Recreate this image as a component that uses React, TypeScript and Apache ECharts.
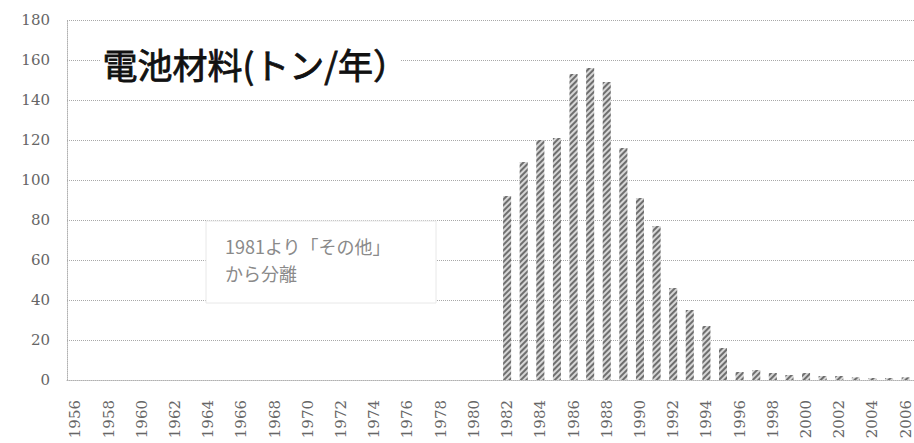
import React, { useEffect, useRef } from "react";
import * as echarts from "echarts";

const years: string[] = [];
for (let y = 1956; y <= 2006; y++) years.push(String(y));

// 1956–1981: no separate data
const earlyValues: (number | null)[] = [
  null, null, null, null, null, null, null, null, null, null, null, null, null,
  null, null, null, null, null, null, null, null, null, null, null, null, null,
];
// 1982–2006
const batteryValues: number[] = [
  92, 109, 120, 121, 153, 156, 149, 116, 91, 77, 46, 35, 27, 16,
  4, 5, 3.5, 2.5, 3.5, 2, 2, 1.3, 1, 1, 1.3,
];
const values = [...earlyValues, ...batteryValues];

const yTicks = [0, 20, 40, 60, 80, 100, 120, 140, 160, 180];

const titleText = "電池材料(トン/年）";
const noteLines = ["1981より「その他」", "から分離"];

const serif = "'DejaVu Serif', 'Liberation Serif', serif";

export default function App() {
  const ref = useRef<HTMLDivElement>(null);
  useEffect(() => {
    if (!ref.current) return;
    const chart = echarts.init(ref.current, null, { renderer: "svg" });
    chart.setOption({
      animation: false,
      backgroundColor: "#ffffff",
      grid: { left: 67, right: 0, top: 20, bottom: 63 },
      xAxis: {
        type: "category",
        data: years,
        boundaryGap: true,
        axisLine: { show: true, lineStyle: { color: "#b0b0b0", type: "dotted", width: 1 } },
        axisTick: { show: false },
        axisLabel: {
          interval: 1,
          rotate: 90,
          margin: 20,
          fontSize: 15,
          fontFamily: serif,
          color: "#666666",
        },
        splitLine: { show: false },
      },
      yAxis: {
        type: "value",
        min: yTicks[0],
        max: yTicks[yTicks.length - 1],
        interval: 20,
        axisLine: { show: true, lineStyle: { color: "#b0b0b0", type: "dotted", width: 1 } },
        axisTick: { show: false },
        axisLabel: {
          margin: 17,
          fontSize: 15,
          fontFamily: serif,
          color: "#666666",
        },
        splitLine: { show: true, lineStyle: { color: "#a8a8a8", type: "dotted", width: 1 } },
      },
      series: [
        {
          type: "bar",
          data: values,
          barWidth: 8,
          itemStyle: {
            color: "#d6d6d6",
            decal: {
              symbol: "rect",
              symbolSize: 1,
              dashArrayX: [1, 0],
              dashArrayY: [1.2, 1.8],
              rotation: -Math.PI / 4,
              color: "#6e6e6e",
            },
          },
        },
      ],
      graphic: [
        {
          type: "rect",
          shape: { x: 100, y: 48, width: 300, height: 40 },
          style: { fill: "#ffffff" },
          z: 10,
        },
        {
          type: "text",
          left: 102,
          top: 46,
          style: {
            text: titleText,
            fontSize: 35,
            fontWeight: "normal",
            fontFamily: "Noto Sans CJK JP",
            fill: "#111111",
            stroke: "#111111",
            lineWidth: 0.8,
          },
          z: 11,
        },
        {
          type: "rect",
          shape: { x: 206, y: 221, width: 230, height: 82 },
          style: { fill: "#ffffff", stroke: "#e8e8e8", lineWidth: 1 },
          z: 10,
        },
        {
          type: "text",
          left: 225,
          top: 232,
          style: {
            text: noteLines.join("\n"),
            fontSize: 18,
            lineHeight: 27,
            fontFamily: "Noto Sans CJK JP",
            fill: "#8a8a8a",
          },
          z: 11,
        },
      ],
    });
    return () => chart.dispose();
  }, []);
  return (
    <div
      ref={ref}
      style={{ position: "absolute", left: 0, top: 0, width: 914, height: 443 }}
    />
  );
}
